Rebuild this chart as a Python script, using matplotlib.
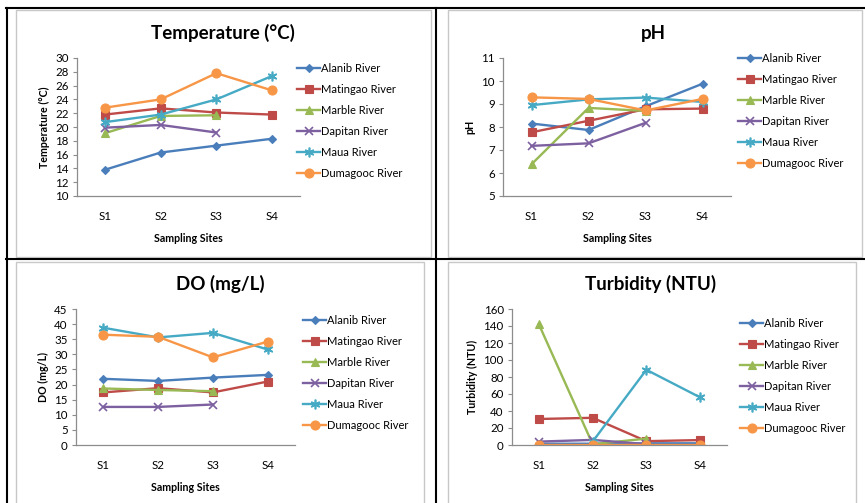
import numpy as np
import matplotlib
matplotlib.use("Agg")
import matplotlib.pyplot as plt
from matplotlib.patches import Rectangle
from matplotlib.lines import Line2D

plt.rcParams['font.family'] = ['Lato', 'DejaVu Sans']

sites = ["S1", "S2", "S3", "S4"]
rivers = ["Alanib River", "Matingao River", "Marble River", "Dapitan River", "Maua River", "Dumagooc River"]
nan = np.nan

temp_alanib = [13.8, 16.3, 17.3, 18.3]
temp_matingao = [21.8, 22.7, 22.1, 21.8]
temp_marble = [19.1, 21.6, 21.7, nan]
temp_dapitan = [19.9, 20.3, 19.2, nan]
temp_maua = [20.7, 21.8, 24.0, 27.4]
temp_dumagooc = [22.8, 24.0, 27.8, 25.3]

ph_alanib = [8.15, 7.87, 8.9, 9.88]
ph_matingao = [7.77, 8.27, 8.77, 8.8]
ph_marble = [6.38, 8.83, 8.7, nan]
ph_dapitan = [7.18, 7.29, 8.18, nan]
ph_maua = [8.95, 9.2, 9.28, 9.09]
ph_dumagooc = [9.29, 9.22, 8.72, 9.22]

do_alanib = [21.9, 21.2, 22.3, 23.2]
do_matingao = [17.4, 18.8, 17.4, 21.0]
do_marble = [18.7, 18.2, 17.8, nan]
do_dapitan = [12.6, 12.6, 13.4, nan]
do_maua = [38.8, 35.6, 37.1, 31.6]
do_dumagooc = [36.5, 35.8, 29.0, 34.2]

turb_alanib = [1.5, 1.5, 2.0, 2.0]
turb_matingao = [30.6, 32.0, 4.5, 5.8]
turb_marble = [142.0, 1.0, 7.5, nan]
turb_dapitan = [4.0, 6.0, 1.0, nan]
turb_maua = [nan, 4.0, 88.5, 56.0]
turb_dumagooc = [0.3, 0.3, 0.3, 0.3]

panels = [
    dict(title="Temperature (°C)", ylabel="Temperature (°C)", ylim=(10, 30), yticks=np.arange(10, 31, 2),
         data=[temp_alanib, temp_matingao, temp_marble, temp_dapitan, temp_maua, temp_dumagooc],
         ax=(77, 58, 300, 196), leg=(297, 70), title_xy=(223, 33), frame=(16, 10, 431, 257)),
    dict(title="pH", ylabel="pH", ylim=(5, 11), yticks=np.arange(5, 12, 1),
         data=[ph_alanib, ph_matingao, ph_marble, ph_dapitan, ph_maua, ph_dumagooc],
         ax=(503, 58, 731, 196), leg=(738, 60), title_xy=(653, 33), frame=(448, 10, 862, 257)),
    dict(title="DO (mg/L)", ylabel="DO (mg/L)", ylim=(0, 45), yticks=np.arange(0, 46, 5),
         data=[do_alanib, do_matingao, do_marble, do_dapitan, do_maua, do_dumagooc],
         ax=(76, 309, 295, 445), leg=(303, 322), title_xy=(220, 284), frame=(16, 262, 424, 510)),
    dict(title="Turbidity (NTU)", ylabel="Turbidity (NTU)", ylim=(0, 160), yticks=np.arange(0, 161, 20),
         data=[turb_alanib, turb_matingao, turb_marble, turb_dapitan, turb_maua, turb_dumagooc],
         ax=(512, 309, 727, 445), leg=(740, 325), title_xy=(651, 284), frame=(448, 262, 856, 510)),
]

colors = ["#4A7EBB", "#BE4B48", "#98B954", "#7D60A0", "#46AAC5", "#F79646"]
markers = ["D", "s", "^", "x", (6, 2, 0), "o"]
msizes = [4.5, 6, 6, 6, 7, 6.5]

W, H = 865, 503
fig = plt.figure(figsize=(W / 100, H / 100), dpi=100)
fig.patch.set_facecolor("white")

def fx(x):
    return x / W

def fy(y):
    return 1 - y / H

# grey chart frames
for p in panels:
    x0, y0, x1, y1 = p["frame"]
    fig.add_artist(Rectangle((fx(x0), fy(y1)), fx(x1 - x0), (y1 - y0) / H, transform=fig.transFigure,
                             fill=False, edgecolor="#C8C8C8", lw=1.0))

# black table lines
fig.add_artist(Line2D([fx(6), fx(865)], [fy(8), fy(8)], color="black", lw=1.5, transform=fig.transFigure))
fig.add_artist(Line2D([fx(6), fx(865)], [fy(259), fy(259)], color="black", lw=1.5, transform=fig.transFigure))
fig.add_artist(Line2D([fx(7), fx(7)], [fy(8), fy(503)], color="black", lw=1.5, transform=fig.transFigure))
fig.add_artist(Line2D([fx(436), fx(436)], [fy(8), fy(503)], color="black", lw=1.5, transform=fig.transFigure))

x = np.arange(len(sites))
for p in panels:
    x0, y0, x1, y1 = p["ax"]
    ax = fig.add_axes([fx(x0), fy(y1), fx(x1 - x0), (y1 - y0) / H])
    handles = []
    for vals, name, c, m, ms in zip(p["data"], rivers, colors, markers, msizes):
        v = np.array(vals, dtype=float)
        mew = 1.2 if m in ("x", (6, 2, 0)) else 0.8
        h, = ax.plot(x, v, color=c, lw=1.7, marker=m, markersize=ms, markeredgewidth=mew,
                     markerfacecolor=c, markeredgecolor=c, label=name)
        handles.append(h)
    ax.set_xlim(-0.5, 3.5)
    ax.set_ylim(*p["ylim"])
    ax.set_yticks(p["yticks"])
    ax.set_xticks(x)
    ax.set_xticklabels(sites)
    for s in ["top", "right"]:
        ax.spines[s].set_visible(False)
    for s in ["left", "bottom"]:
        ax.spines[s].set_color("#8C8C8C")
        ax.spines[s].set_linewidth(0.9)
    ax.tick_params(axis="y", length=3, color="#8C8C8C", labelsize=8.3, pad=3)
    ax.tick_params(axis="x", length=0, labelsize=8.3, pad=11)
    ax.set_xlabel("Sampling Sites", fontsize=7.7, fontweight="bold", labelpad=8)
    ax.set_ylabel(p["ylabel"], fontsize=7.7, fontweight="bold", labelpad=4)
    ax.patch.set_alpha(0)
    tx, ty = p["title_xy"]
    fig.text(fx(tx), fy(ty), p["title"], fontsize=13.5, fontweight="bold", ha="center", va="center")
    lx, ly = p["leg"]
    fig.legend(handles=handles, loc="upper left", bbox_to_anchor=(fx(lx), fy(ly - 7)),
               bbox_transform=fig.transFigure, frameon=False, fontsize=8, borderpad=0,
               borderaxespad=0, handlelength=2.1, handletextpad=0.1, labelspacing=0.9)

fig.savefig("out.png", dpi=100, facecolor="white")
